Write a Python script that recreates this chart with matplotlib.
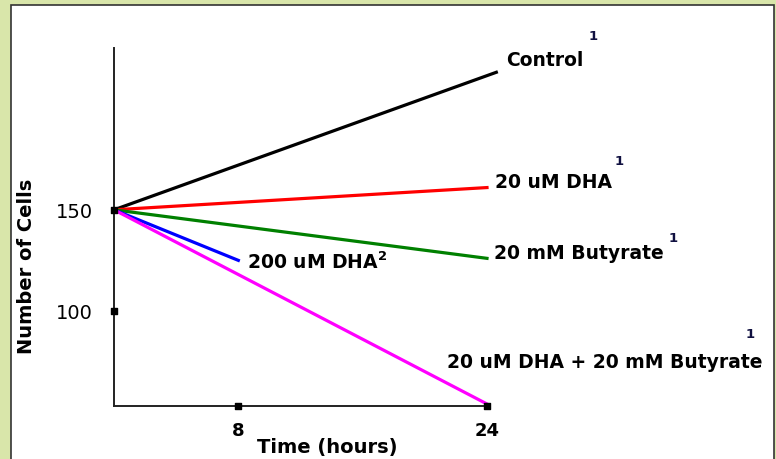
import matplotlib.pyplot as plt
from matplotlib.patches import Rectangle

plt.rcParams['font.family'] = ['DejaVu Sans']

# hours and cell counts
t_control = [0, 24.6]
control = [150, 218]
t_24 = [0, 24]
dha20 = [150, 161]
butyrate = [150, 126]
combo = [150, 54]
t_8 = [0, 8]
dha200 = [150, 125]

x_ticks = [8, 24]
y_ticks = [100, 150]

fig = plt.figure(figsize=(7.76, 4.6), dpi=100)
fig.patch.set_facecolor('#d9e6aa')
fig.patches.append(Rectangle((11 / 776, -0.05), (774 - 11) / 776, (460 - 6) / 460 + 0.05,
                             transform=fig.transFigure, facecolor='white',
                             edgecolor='#333333', linewidth=1.2, zorder=-1))

ax = fig.add_axes([114 / 776, 53 / 460, (487 - 114) / 776, (407 - 49) / 460])
ax.set_zorder(2)
ax.patch.set_alpha(0)
ax.set_xlim(0, 24)
ax.set_ylim(53, 230)

for s in ['top', 'right']:
    ax.spines[s].set_visible(False)
for s in ['left', 'bottom']:
    ax.spines[s].set_color('#222222')
    ax.spines[s].set_linewidth(1.4)

lw = 2.3
ax.plot(t_control, control, color='black', lw=lw, clip_on=False)
ax.plot(t_24, dha20, color='#ff0000', lw=lw, clip_on=False)
ax.plot(t_24, butyrate, color='#008000', lw=lw, clip_on=False)
ax.plot(t_8, dha200, color='#0000ff', lw=lw, clip_on=False)
ax.plot(t_24, combo, color='#ff00ff', lw=lw, clip_on=False)

# square tick marks on the axes
ax.scatter(x_ticks, [53] * len(x_ticks), marker='s', s=14, color='black', clip_on=False, zorder=5)
ax.scatter([0] * len(y_ticks), y_ticks, marker='s', s=14, color='black', clip_on=False, zorder=5)

ax.set_xticks(x_ticks)
ax.set_xticklabels([str(v) for v in x_ticks], fontweight='bold', fontsize=13)
ax.set_yticks(y_ticks)
ax.set_yticklabels([str(v) for v in y_ticks], fontsize=14)
ax.tick_params(axis='x', length=0, pad=11)
ax.tick_params(axis='y', length=0, pad=15)

fs = 13.5
kw = dict(fontweight='bold', fontsize=fs, va='center', ha='left', clip_on=False)
sup = dict(fontweight='bold', fontsize=9.5, va='center', ha='center', clip_on=False, color='#101040')
ax.text(25.2, 224.3, 'Control', **kw)
ax.text(30.8, 236.1, '1', **sup)
ax.text(24.5, 163.9, '20 uM DHA', **kw)
ax.text(32.5, 174.3, '1', **sup)
ax.text(24.45, 128.7, '20 mM Butyrate', **kw)
ax.text(36.0, 136.1, '1', **sup)
ax.text(8.56, 124.8, '200 uM DHA$^{\\mathbf{2}}$', **kw)
ax.text(21.4, 75.2, '20 uM DHA + 20 mM Butyrate', **kw)
ax.text(40.9, 88.6, '1', **sup)

fig.text(327 / 776, 1 - 448 / 460, 'Time (hours)', fontweight='bold', fontsize=14,
         ha='center', va='center')
fig.text(27 / 776, 1 - 266 / 460, 'Number of Cells', fontweight='bold', fontsize=14,
         ha='center', va='center', rotation=90)

fig.savefig('out.png', dpi=100, facecolor=fig.get_facecolor())
